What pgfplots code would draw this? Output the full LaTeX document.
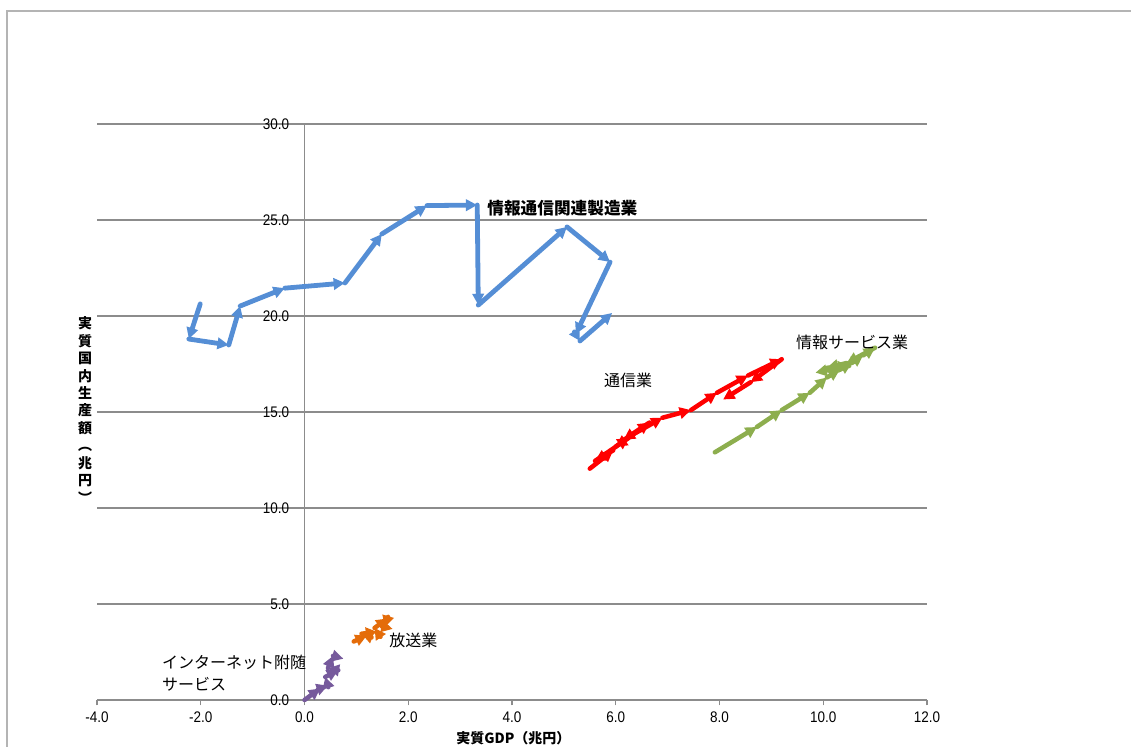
\documentclass[border=0pt]{standalone}
\usepackage{fontspec}
\setmainfont{Liberation Sans}
\newfontfamily\jp{Noto Sans CJK JP}
\newfontfamily\tickfont[FakeStretch=0.88]{Liberation Sans}
\usepackage{pgfplots}
\pgfplotsset{compat=1.18}
\usetikzlibrary{arrows.meta}
\definecolor{sblue}{HTML}{558ED5}
\definecolor{sred}{HTML}{FF0000}
\definecolor{sgreen}{HTML}{8DAE4E}
\definecolor{sorange}{HTML}{E46C0A}
\definecolor{spurple}{HTML}{765A9C}
\definecolor{axisgray}{HTML}{8C8C8C}
\definecolor{gridgray}{HTML}{8C8C8C}
\definecolor{framegray}{HTML}{B4B4B4}

% each row: segment from (x,y) to (x2,y2)
\pgfplotstableread{
x y x2 y2
-2.01 20.63 -2.23 18.80
-2.23 18.80 -1.46 18.49
-1.46 18.49 -1.24 20.52
-1.24 20.52 -0.38 21.45
-0.38 21.45 0.78 21.72
0.78 21.72 1.49 24.27
1.49 24.27 2.36 25.75
2.36 25.75 3.33 25.78
3.33 25.78 3.35 20.57
3.35 20.57 5.06 24.64
5.06 24.64 5.89 22.81
5.89 22.81 5.23 19.06
5.23 19.06 5.31 18.70
5.31 18.70 5.93 20.16
}\blueseg
\pgfplotstableread{
x y x2 y2
5.50 12.05 5.95 13.00
5.95 13.00 5.60 12.45
5.60 12.45 6.25 13.65
6.25 13.65 6.00 13.20
6.00 13.20 6.65 14.45
6.65 14.45 6.15 13.55
6.15 13.55 6.90 14.70
6.90 14.70 7.45 15.10
7.45 15.10 7.95 16.00
7.95 16.00 8.55 16.90
8.55 16.90 9.20 17.75
9.20 17.75 8.60 16.55
8.60 16.55 8.07 15.65
}\redseg
\pgfplotstableread{
x y x2 y2
7.91 12.90 8.72 14.22
8.72 14.22 9.20 15.10
9.20 15.10 9.74 16.00
9.74 16.00 10.07 16.80
10.07 16.80 10.32 17.20
10.32 17.20 10.55 17.55
10.55 17.55 10.77 17.95
10.77 17.95 11.00 18.35
11.00 18.35 10.45 17.55
10.45 17.55 10.07 17.30
10.07 17.30 10.50 17.40
10.50 17.40 9.85 17.05
}\greenseg
\pgfplotstableread{
x y x2 y2
0.95 3.05 1.20 3.35
1.20 3.35 1.10 3.45
1.10 3.45 1.40 3.55
1.40 3.55 1.35 3.75
1.35 3.75 1.60 4.25
1.60 4.25 1.55 3.80
1.55 3.80 1.70 3.70
}\orangeseg
\pgfplotstableread{
x y x2 y2
0.00 0.00 0.30 0.60
0.30 0.60 0.45 0.75
0.45 0.75 0.40 1.20
0.40 1.20 0.65 1.55
0.65 1.55 0.45 1.65
0.45 1.65 0.55 2.30
0.55 2.30 0.75 2.15
}\purpleseg

\pgfplotsset{seg/.style={no markers, quiver={u=\thisrow{x2}-\thisrow{x}, v=\thisrow{y2}-\thisrow{y}}, -{Triangle[length=8.5pt,width=8.5pt]}, line cap=round, line join=round}}

\begin{document}
\begin{tikzpicture}
\useasboundingbox (0,0) rectangle (848.25pt,559.5pt);
\draw[framegray, line width=1.2pt] (5.25pt,-50pt) -- (5.25pt,551.25pt) -- (900pt,551.25pt);
\begin{axis}[
  at={(72.75pt,34.5pt)}, anchor=south west,
  scale only axis, width=622.5pt, height=432pt,
  xmin=-4, xmax=12, ymin=0, ymax=30,
  axis lines=middle, axis line style={-, draw=axisgray, line width=0.9pt},
  xtick={-4,-2,...,12}, xticklabels={-4.0,-2.0,0.0,2.0,4.0,6.0,8.0,10.0,12.0},
  ytick={0,5,...,30}, yticklabels={0.0,5.0,10.0,15.0,20.0,25.0,30.0},
  hide obscured x ticks=false, hide obscured y ticks=false,
  tick align=outside, major tick length=4pt,
  tick style={axisgray, line width=0.8pt},
  ymajorgrids, grid style={gridgray, line width=0.9pt},
  ticklabel style={font=\tickfont\fontsize{11.5}{12}\selectfont, text=black},
  xticklabel style={yshift=-1pt},
  yticklabel style={xshift=-4pt},
  clip=false,
]
\addplot[seg, sblue, line width=3.6pt] table {\blueseg};
\addplot[seg, sred, line width=3.4pt] table {\redseg};
\addplot[seg, sgreen, line width=3.4pt] table {\greenseg};
\addplot[seg, sorange, line width=3.4pt] table {\orangeseg};
\addplot[seg, spurple, line width=3.4pt] table {\purpleseg};
\node[anchor=west, inner sep=0pt, font=\jp\bfseries\fontsize{12.5}{13}\selectfont] at (axis cs:3.52,25.6) {情報通信関連製造業};
\node[anchor=west, inner sep=0pt, font=\jp\fontsize{12}{13}\selectfont] at (axis cs:9.47,18.6) {情報サービス業};
\node[anchor=west, inner sep=0pt, font=\jp\fontsize{12}{13}\selectfont] at (axis cs:5.77,16.67) {通信業};
\node[anchor=west, inner sep=0pt, font=\jp\fontsize{12}{13}\selectfont] at (axis cs:1.63,3.1) {放送業};
\node[anchor=west, inner sep=0pt, align=left, font=\jp\fontsize{12}{16.5}\selectfont] at (axis cs:-2.75,1.41) {インターネット附随\\サービス};
\end{axis}
\node[align=center, font=\jp\bfseries\fontsize{10.5}{13.1}\selectfont] at (63.75pt,252pt) {実\\質\\国\\内\\生\\産\\額\\︵\\兆\\円\\︶};
\node[font=\jp\bfseries\fontsize{10.5}{11}\selectfont] at (385pt,6pt) {実質GDP（兆円）};
\end{tikzpicture}
\end{document}
